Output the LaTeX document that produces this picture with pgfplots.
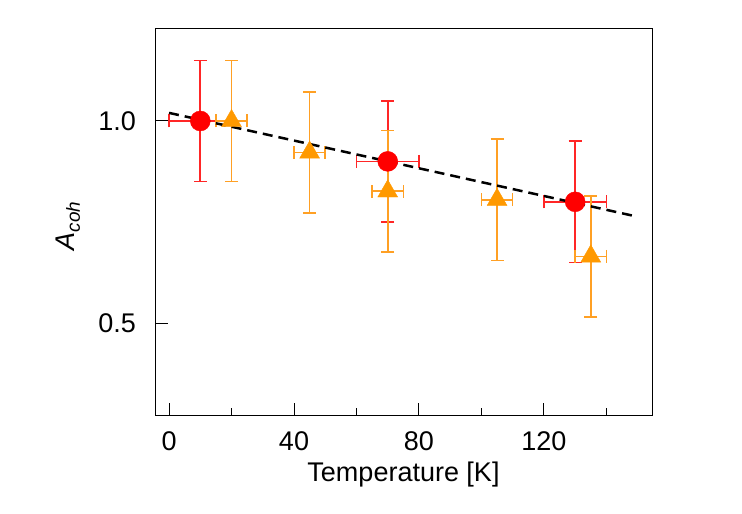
\documentclass[border=0pt]{standalone}
\usepackage{fontspec}
\setmainfont{Liberation Sans}
\usepackage{pgfplots}
\pgfplotsset{compat=1.18}

\definecolor{mred}{HTML}{FF0000}
\definecolor{ered}{HTML}{FF2626}
\definecolor{morange}{HTML}{FF9900}
\definecolor{eorange}{HTML}{FFA024}

% T, A, dT, dA
\pgfplotstableread{
x y ex ey
10 1.00 10 0.15
70 0.90 10 0.15
130 0.80 10 0.15
}\reddata
\pgfplotstableread{
x y ex ey
20 1.000 5 0.15
45 0.922 5 0.15
70 0.826 5 0.15
105 0.805 5 0.15
135 0.665 5 0.15
}\orangedata

\begin{document}
\begin{tikzpicture}
\useasboundingbox (0,0) rectangle (742bp,514bp);
\begin{axis}[
    at={(155bp,98bp)}, anchor=south west,
    scale only axis,
    width=497bp, height=388bp,
    xmin=-4.5, xmax=154.6,
    ymin=0.27, ymax=1.23,
    xtick={0,40,80,120},
    minor xtick={20,60,100,140},
    ytick={0.5,1.0},
    xtick pos=bottom, ytick pos=left,
    tick align=inside,
    major tick length=13bp, minor tick length=8bp,
    axis line style={line width=1bp},
    every tick/.style={black, line width=1bp},
    /pgf/number format/assume math mode=true,
    /pgf/number format/fixed,
    /pgf/number format/fixed zerofill,
    /pgf/number format/precision=1,
    xticklabel={\pgfmathprintnumber[fixed,precision=0]{\tick}},
    tick label style={font=\fontsize{27bp}{31bp}\selectfont},
    xticklabel style={anchor=north, inner sep=0pt, yshift=-15bp},
    yticklabel style={anchor=east, inner sep=0pt, xshift=-19bp},
    label style={font=\fontsize{27bp}{31bp}\selectfont},
    xlabel={Temperature [K]},
    xlabel style={at={(axis description cs:0.5,0)}, anchor=north, inner sep=0pt, yshift=-46bp},
    ylabel={\textit{A}\textsubscript{\textit{coh}}},
    ylabel style={at={(axis description cs:-0.175,0.49)}, anchor=center, inner sep=0pt},
    clip=false,
]
% error bars first
\addplot[draw=none, mark=none, forget plot,
    error bars/.cd, x dir=both, x explicit, y dir=both, y explicit,
    error bar style={ered, line width=1.6bp},
    error mark options={ered, line width=1.6bp, mark size=6.5bp, rotate=90}]
    table[x=x, y=y, x error=ex, y error=ey] {\reddata};
\addplot[draw=none, mark=none, forget plot,
    error bars/.cd, x dir=both, x explicit, y dir=both, y explicit,
    error bar style={eorange, line width=1.6bp},
    error mark options={eorange, line width=1.6bp, mark size=6.5bp, rotate=90}]
    table[x=x, y=y, x error=ex, y error=ey] {\orangedata};
% markers
\addplot[only marks, mark=*, mark size=10bp, mred, mark options={draw=mred, fill=mred}]
    table[x=x, y=y] {\reddata};
\addplot[only marks, mark=triangle*, mark size=11.5bp, morange, mark options={draw=morange, fill=morange}]
    table[x=x, y=y] {\orangedata};
% linear fit
\addplot[black, line width=2.5bp, dash pattern=on 10bp off 6bp] coordinates {
(0,1.020)
(150,0.763)
};
\end{axis}
\end{tikzpicture}
\end{document}
